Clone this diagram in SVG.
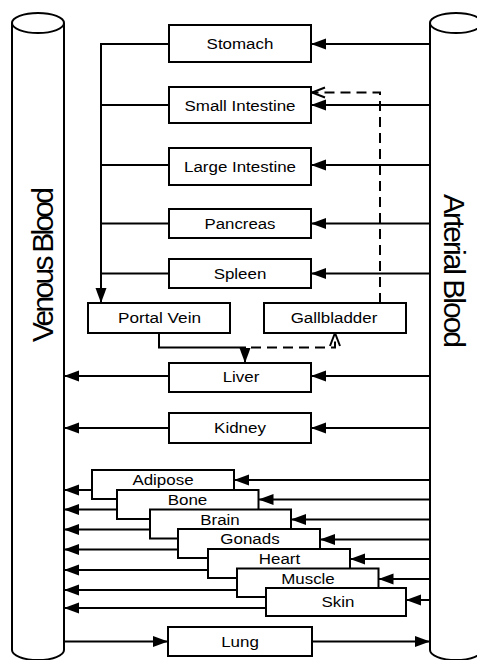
<svg xmlns="http://www.w3.org/2000/svg" width="477" height="660" viewBox="0 0 477 660">
<style>
.box{fill:#fff;stroke:#000;stroke-width:2}
.cyl{fill:#fff;stroke:#000;stroke-width:2}
.ln{fill:none;stroke:#000;stroke-width:2}
.dash{fill:none;stroke:#000;stroke-width:2;stroke-dasharray:10 6}
.lbl{font-family:"Liberation Sans",Arial,sans-serif;font-size:14px;fill:#000;text-anchor:middle}
.big{font-family:"Liberation Sans",Arial,sans-serif;font-size:30px;fill:#000;text-anchor:middle}
</style>
<defs>
<marker id="ah" markerUnits="userSpaceOnUse" markerWidth="16" markerHeight="12" refX="15" refY="5.5" orient="auto">
<path d="M0,0 L15,5.5 L0,11 z" fill="#000"/>
</marker>
<marker id="oh" markerUnits="userSpaceOnUse" markerWidth="16" markerHeight="14" refX="14" refY="6" orient="auto">
<path d="M1,1 L14,6 L1,11" fill="none" stroke="#000" stroke-width="2"/>
</marker>
</defs>
<rect width="477" height="660" fill="#fff"/>

<g id="venous">
<path class="cyl" d="M12,23 L12,650 A26,10 0 0 0 64,650 L64,23"/>
<ellipse class="cyl" cx="38" cy="23" rx="26" ry="10"/>
<text class="big" transform="translate(53,264.5) rotate(-90)" textLength="155" lengthAdjust="spacing">Venous Blood</text>
</g>
<g id="arterial">
<path class="cyl" d="M430,23 L430,650 A26,10 0 0 0 482,650 L482,23"/>
<ellipse class="cyl" cx="456" cy="23" rx="26" ry="10"/>
<text class="big" transform="translate(444,271) rotate(90)" textLength="154" lengthAdjust="spacing">Arterial Blood</text>
</g>

<g id="connectors">
<!-- GI venous bus to portal vein -->
<path class="ln" d="M169,44 L101,44 L101,303" marker-end="url(#ah)"/>
<path class="ln" d="M169,105 L101,105"/>
<path class="ln" d="M169,165 L101,165"/>
<path class="ln" d="M169,223.5 L101,223.5"/>
<path class="ln" d="M169,273.5 L101,273.5"/>
<!-- arterial supply -->
<path class="ln" d="M430,44 L311,44" marker-end="url(#ah)"/>
<path class="ln" d="M430,105 L311,105" marker-end="url(#ah)"/>
<path class="ln" d="M430,165 L311,165" marker-end="url(#ah)"/>
<path class="ln" d="M430,223.5 L311,223.5" marker-end="url(#ah)"/>
<path class="ln" d="M430,273.5 L311,273.5" marker-end="url(#ah)"/>
<path class="ln" d="M430,376 L311,376" marker-end="url(#ah)"/>
<path class="ln" d="M430,428 L311,428" marker-end="url(#ah)"/>
<!-- portal vein to liver -->
<path class="ln" d="M159,333 L159,347.5 L245,347.5 L245,363" marker-end="url(#ah)"/>
<!-- bile dashed -->
<path class="dash" d="M251,347.5 L335,347.5 L335,333" marker-end="url(#oh)"/>
<path class="dash" d="M380,303 L380,92.5 L312,92.5" marker-end="url(#oh)"/>
<!-- venous returns -->
<path class="ln" d="M169,376 L64,376" marker-end="url(#ah)"/>
<path class="ln" d="M169,428 L64,428" marker-end="url(#ah)"/>
<path class="ln" d="M92,490 L64,490" marker-end="url(#ah)"/>
<path class="ln" d="M117,509.5 L64,509.5" marker-end="url(#ah)"/>
<path class="ln" d="M150,529.5 L64,529.5" marker-end="url(#ah)"/>
<path class="ln" d="M178,549.5 L64,549.5" marker-end="url(#ah)"/>
<path class="ln" d="M208,570 L64,570" marker-end="url(#ah)"/>
<path class="ln" d="M237,590 L64,590" marker-end="url(#ah)"/>
<path class="ln" d="M266,608 L64,608" marker-end="url(#ah)"/>
<!-- arterial to stacked tissues -->
<path class="ln" d="M430,480 L234,480" marker-end="url(#ah)"/>
<path class="ln" d="M430,499.5 L258.5,499.5" marker-end="url(#ah)"/>
<path class="ln" d="M430,519.5 L291,519.5" marker-end="url(#ah)"/>
<path class="ln" d="M430,539.5 L320,539.5" marker-end="url(#ah)"/>
<path class="ln" d="M430,559 L350,559" marker-end="url(#ah)"/>
<path class="ln" d="M430,579 L378.5,579" marker-end="url(#ah)"/>
<path class="ln" d="M430,600 L406,600" marker-end="url(#ah)"/>
<!-- lung -->
<path class="ln" d="M64,641.5 L168,641.5" marker-end="url(#ah)"/>
<path class="ln" d="M312,641.5 L430,641.5" marker-end="url(#ah)"/>
</g>

<g id="stomach"><rect class="box" x="169" y="25" width="142" height="37"/><text class="lbl" x="240" y="49" textLength="66.8" lengthAdjust="spacingAndGlyphs">Stomach</text></g>
<g id="small-intestine"><rect class="box" x="169" y="87" width="142" height="36"/><text class="lbl" x="240" y="110.5" textLength="111" lengthAdjust="spacingAndGlyphs">Small Intestine</text></g>
<g id="large-intestine"><rect class="box" x="169" y="148" width="142" height="37"/><text class="lbl" x="240" y="171.5" textLength="112" lengthAdjust="spacingAndGlyphs">Large Intestine</text></g>
<g id="pancreas"><rect class="box" x="169" y="209" width="142" height="29"/><text class="lbl" x="240" y="228.5" textLength="71" lengthAdjust="spacingAndGlyphs">Pancreas</text></g>
<g id="spleen"><rect class="box" x="169" y="259" width="142" height="29"/><text class="lbl" x="240" y="278.5" textLength="52.7" lengthAdjust="spacingAndGlyphs">Spleen</text></g>
<g id="portal-vein"><rect class="box" x="88" y="303" width="142" height="30"/><text class="lbl" x="159.5" y="323" textLength="83" lengthAdjust="spacingAndGlyphs">Portal Vein</text></g>
<g id="gallbladder"><rect class="box" x="264" y="303" width="142" height="30"/><text class="lbl" x="334" y="323" textLength="86.6" lengthAdjust="spacingAndGlyphs">Gallbladder</text></g>
<g id="liver"><rect class="box" x="169" y="363" width="142" height="29"/><text class="lbl" x="241" y="382" textLength="36.7" lengthAdjust="spacingAndGlyphs">Liver</text></g>
<g id="kidney"><rect class="box" x="169" y="413" width="142" height="30"/><text class="lbl" x="240" y="433" textLength="51.8" lengthAdjust="spacingAndGlyphs">Kidney</text></g>
<g id="adipose"><rect class="box" x="92" y="470" width="142" height="29"/><text class="lbl" x="163" y="485" textLength="61.2" lengthAdjust="spacingAndGlyphs">Adipose</text></g>
<g id="bone"><rect class="box" x="117" y="490" width="141.5" height="29"/><text class="lbl" x="187.5" y="505" textLength="39.6" lengthAdjust="spacingAndGlyphs">Bone</text></g>
<g id="brain"><rect class="box" x="150" y="509.5" width="141" height="29"/><text class="lbl" x="220" y="524.5" textLength="39.5" lengthAdjust="spacingAndGlyphs">Brain</text></g>
<g id="gonads"><rect class="box" x="178" y="529" width="142" height="29"/><text class="lbl" x="250" y="544" textLength="59.3" lengthAdjust="spacingAndGlyphs">Gonads</text></g>
<g id="heart"><rect class="box" x="208" y="549" width="142" height="29"/><text class="lbl" x="279.5" y="563.5" textLength="41.4" lengthAdjust="spacingAndGlyphs">Heart</text></g>
<g id="muscle"><rect class="box" x="237" y="568.5" width="141.5" height="28.5"/><text class="lbl" x="308" y="583.5" textLength="53.6" lengthAdjust="spacingAndGlyphs">Muscle</text></g>
<g id="skin"><rect class="box" x="266" y="588" width="140" height="28"/><text class="lbl" x="338" y="606.5" textLength="32.9" lengthAdjust="spacingAndGlyphs">Skin</text></g>
<g id="lung"><rect class="box" x="168" y="627" width="144" height="29"/><text class="lbl" x="240" y="646.5" textLength="37.7" lengthAdjust="spacingAndGlyphs">Lung</text></g>
</svg>
